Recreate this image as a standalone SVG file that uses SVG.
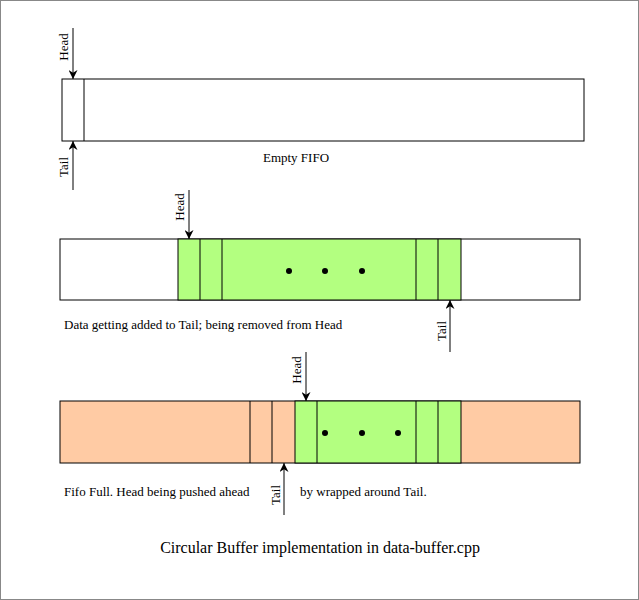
<svg xmlns="http://www.w3.org/2000/svg" width="639" height="600" viewBox="0 0 639 600">
<defs>
<marker id="ah" viewBox="0 0 10 10" refX="10" refY="5" markerWidth="12" markerHeight="9" markerUnits="userSpaceOnUse" orient="auto"><path d="M0,0 L10,5 L0,10 L3,5 z" fill="#000"/></marker>
</defs>
<style>
.box{stroke:#000;stroke-width:1}
.ln{stroke:#000;stroke-width:1}
.ar{stroke:#000;stroke-width:1;marker-end:url(#ah)}
text{font-family:"Liberation Serif",serif;font-size:13px;fill:#000}
.dot{fill:#000}
</style>
<rect x="0.5" y="0.5" width="638" height="599" fill="#fff" stroke="#888"/>
<g id="fifo-empty">
<rect class="box" x="62" y="79" width="522" height="62" fill="#fff"/>
<line class="ln" x1="84" y1="79" x2="84" y2="141"/>
<text x="296" y="162" text-anchor="middle">Empty FIFO</text>
</g>
<g id="fifo-partial">
<rect class="box" x="60" y="239" width="520" height="61" fill="#fff"/>
<rect class="box" x="178" y="239" width="283" height="61" fill="#b3ff80"/>
<line class="ln" x1="200" y1="239" x2="200" y2="300"/>
<line class="ln" x1="222" y1="239" x2="222" y2="300"/>
<line class="ln" x1="416" y1="239" x2="416" y2="300"/>
<line class="ln" x1="438" y1="239" x2="438" y2="300"/>
<circle class="dot" cx="289" cy="271" r="3"/><circle class="dot" cx="325" cy="271" r="3"/><circle class="dot" cx="362" cy="271" r="3"/>
<text x="64" y="329">Data getting added to Tail; being removed from Head</text>
</g>
<g id="fifo-full">
<rect class="box" x="60" y="401" width="520" height="62" fill="#ffcba4"/>
<rect class="box" x="295" y="401" width="166" height="62" fill="#b3ff80"/>
<line class="ln" x1="250" y1="401" x2="250" y2="463"/>
<line class="ln" x1="272" y1="401" x2="272" y2="463"/>
<line class="ln" x1="317" y1="401" x2="317" y2="463"/>
<line class="ln" x1="416" y1="401" x2="416" y2="463"/>
<line class="ln" x1="438" y1="401" x2="438" y2="463"/>
<circle class="dot" cx="325" cy="433" r="3"/><circle class="dot" cx="362" cy="433" r="3"/><circle class="dot" cx="398" cy="433" r="3"/>
<text x="64" y="496">Fifo Full. Head being pushed ahead</text>
<text x="300" y="496">by wrapped around Tail.</text>
</g>
<g id="connectors">
<line class="ar" x1="73" y1="28" x2="73" y2="79"/>
<line class="ar" x1="73" y1="190" x2="73" y2="141"/>
<line class="ar" x1="189" y1="190" x2="189" y2="239"/>
<line class="ar" x1="450" y1="352" x2="450" y2="300"/>
<line class="ar" x1="306" y1="352" x2="306" y2="401"/>
<line class="ar" x1="284" y1="515" x2="284" y2="463"/>
</g>
<g id="labels">
<text transform="translate(68,47) rotate(-90)" text-anchor="middle">Head</text>
<text transform="translate(68,167) rotate(-90)" text-anchor="middle">Tail</text>
<text transform="translate(184,207) rotate(-90)" text-anchor="middle">Head</text>
<text transform="translate(446,331) rotate(-90)" text-anchor="middle">Tail</text>
<text transform="translate(301,370) rotate(-90)" text-anchor="middle">Head</text>
<text transform="translate(280,495) rotate(-90)" text-anchor="middle">Tail</text>
</g>
<text x="320" y="553" text-anchor="middle" style="font-size:16px">Circular Buffer implementation in data-buffer.cpp</text>
</svg>
